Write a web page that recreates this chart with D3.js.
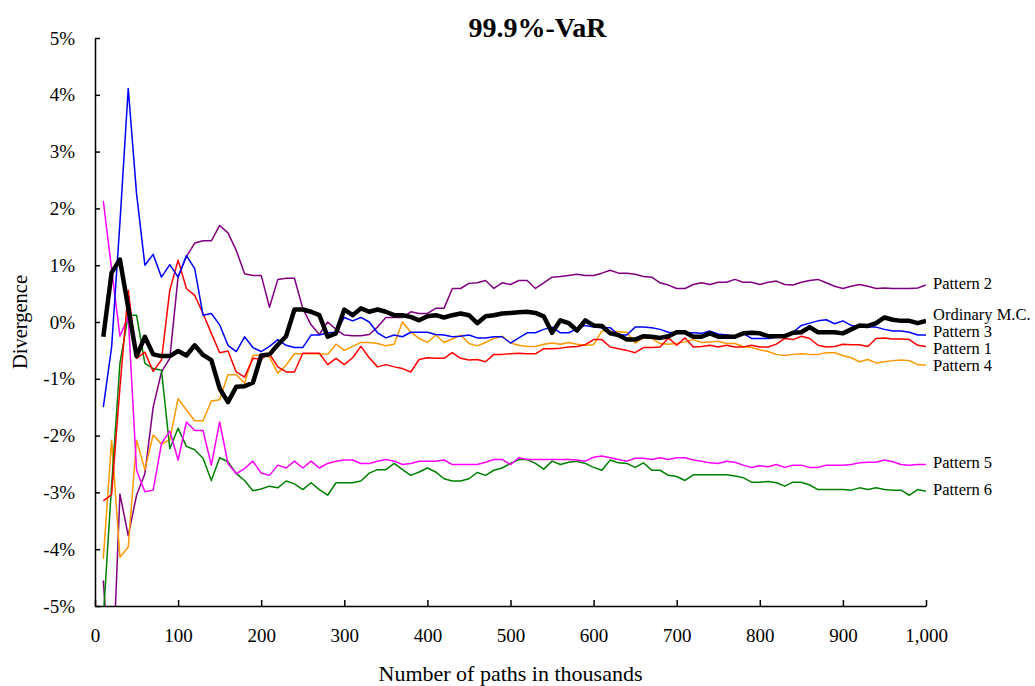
<!DOCTYPE html>
<html lang="en">
<head>
<meta charset="UTF-8">
<title>99.9%-VaR</title>
<script src="https://cdn.jsdelivr.net/npm/d3@7"></script>
<style>
    body { margin: 0; background: #fff; }
    text { font-family: "Liberation Serif", "Times New Roman", serif; fill: #000; }
</style>
</head>
<body>
<div id="chart"></div>
<script>
// Number of paths (thousands)
const paths = [10, 20, 30, 40, 50, 60, 70, 80, 90, 100,
    110, 120, 130, 140, 150, 160, 170, 180, 190, 200,
    210, 220, 230, 240, 250, 260, 270, 280, 290, 300,
    310, 320, 330, 340, 350, 360, 370, 380, 390, 400,
    410, 420, 430, 440, 450, 460, 470, 480, 490, 500,
    510, 520, 530, 540, 550, 560, 570, 580, 590, 600,
    610, 620, 630, 640, 650, 660, 670, 680, 690, 700,
    710, 720, 730, 740, 750, 760, 770, 780, 790, 800,
    810, 820, 830, 840, 850, 860, 870, 880, 890, 900,
    910, 920, 930, 940, 950, 960, 970, 980, 990, 1000];

// Divergence in %
const ordinaryMC = [-0.26, 0.87, 1.10, 0.25, -0.60, -0.26, -0.57, -0.60, -0.60, -0.51,
    -0.59, -0.41, -0.58, -0.67, -1.17, -1.41, -1.14, -1.13, -1.07, -0.59,
    -0.57, -0.40, -0.25, 0.22, 0.22, 0.18, 0.12, -0.26, -0.20, 0.22,
    0.12, 0.24, 0.18, 0.22, 0.18, 0.12, 0.12, 0.09, 0.03, 0.10,
    0.12, 0.08, 0.12, 0.15, 0.12, -0.02, 0.10, 0.12, 0.15, 0.16,
    0.17, 0.18, 0.16, 0.10, -0.19, 0.03, -0.02, -0.15, 0.03, -0.06,
    -0.07, -0.20, -0.23, -0.31, -0.31, -0.25, -0.26, -0.28, -0.25, -0.18,
    -0.18, -0.26, -0.26, -0.20, -0.26, -0.26, -0.26, -0.20, -0.19, -0.20,
    -0.25, -0.25, -0.25, -0.19, -0.18, -0.09, -0.18, -0.18, -0.18, -0.20,
    -0.13, -0.06, -0.07, -0.02, 0.08, 0.04, 0.02, 0.02, -0.02, 0.02];

const pattern1 = [-3.15, -3.04, -1.15, 0.56, -0.64, -0.53, -0.87, -0.67, 0.56, 1.09,
    0.59, 0.47, 0.15, -0.20, -0.54, -0.51, -0.88, -0.97, -0.64, -0.65,
    -0.56, -0.79, -0.88, -0.88, -0.55, -0.55, -0.55, -0.75, -0.64, -0.75,
    -0.63, -0.43, -0.63, -0.79, -0.75, -0.79, -0.82, -0.88, -0.66, -0.63,
    -0.64, -0.64, -0.54, -0.64, -0.67, -0.66, -0.70, -0.57, -0.57, -0.56,
    -0.55, -0.56, -0.56, -0.47, -0.47, -0.46, -0.44, -0.43, -0.40, -0.31,
    -0.31, -0.44, -0.47, -0.50, -0.54, -0.45, -0.45, -0.44, -0.28, -0.41,
    -0.28, -0.44, -0.43, -0.41, -0.44, -0.41, -0.44, -0.44, -0.41, -0.44,
    -0.44, -0.39, -0.29, -0.31, -0.25, -0.29, -0.41, -0.44, -0.43, -0.39,
    -0.40, -0.40, -0.43, -0.29, -0.28, -0.30, -0.30, -0.31, -0.41, -0.43];

const pattern2 = [-4.55, -6.70, -3.03, -3.76, -3.05, -2.67, -1.50, -0.88, -0.64, 0.80,
    1.15, 1.39, 1.43, 1.43, 1.70, 1.57, 1.26, 0.85, 0.82, 0.82,
    0.26, 0.75, 0.77, 0.77, 0.24, -0.05, -0.22, 0.00, -0.13, -0.23,
    -0.24, -0.24, -0.22, -0.09, 0.08, 0.08, 0.08, 0.18, 0.15, 0.15,
    0.24, 0.24, 0.59, 0.59, 0.68, 0.69, 0.73, 0.59, 0.69, 0.66,
    0.73, 0.73, 0.59, 0.69, 0.79, 0.80, 0.82, 0.84, 0.82, 0.82,
    0.86, 0.91, 0.86, 0.86, 0.84, 0.80, 0.79, 0.69, 0.65, 0.59,
    0.59, 0.66, 0.69, 0.66, 0.70, 0.70, 0.75, 0.70, 0.70, 0.66,
    0.70, 0.72, 0.66, 0.65, 0.70, 0.73, 0.75, 0.69, 0.63, 0.59,
    0.63, 0.66, 0.63, 0.59, 0.60, 0.59, 0.59, 0.59, 0.60, 0.65];

const pattern3 = [-1.50, -0.44, 1.75, 4.11, 2.26, 1.00, 1.19, 0.79, 1.01, 0.79,
    1.17, 0.94, 0.12, 0.15, -0.05, -0.41, -0.52, -0.26, -0.45, -0.52,
    -0.43, -0.31, -0.41, -0.45, -0.45, -0.23, -0.23, -0.19, -0.18, 0.08,
    0.02, 0.08, 0.00, -0.19, -0.28, -0.23, -0.26, -0.18, -0.18, -0.18,
    -0.22, -0.23, -0.26, -0.25, -0.23, -0.28, -0.28, -0.26, -0.26, -0.37,
    -0.28, -0.19, -0.19, -0.13, -0.09, -0.19, -0.19, -0.12, -0.06, -0.09,
    -0.10, -0.10, -0.23, -0.23, -0.09, -0.09, -0.10, -0.13, -0.18, -0.19,
    -0.19, -0.19, -0.20, -0.16, -0.21, -0.23, -0.25, -0.20, -0.29, -0.29,
    -0.29, -0.27, -0.25, -0.18, -0.06, -0.02, 0.02, 0.04, -0.03, 0.02,
    -0.06, -0.07, -0.09, -0.09, -0.13, -0.16, -0.16, -0.18, -0.23, -0.23];

const pattern4 = [-4.17, -2.08, -4.14, -3.96, -2.08, -2.60, -1.99, -2.15, -2.07, -1.35,
    -1.55, -1.74, -1.74, -1.39, -1.37, -0.93, -0.93, -1.08, -0.59, -0.58,
    -0.62, -0.90, -0.76, -0.56, -0.56, -0.56, -0.56, -0.57, -0.39, -0.50,
    -0.43, -0.36, -0.36, -0.38, -0.42, -0.39, 0.00, -0.18, -0.29, -0.36,
    -0.23, -0.36, -0.30, -0.23, -0.38, -0.42, -0.36, -0.29, -0.25, -0.37,
    -0.41, -0.43, -0.43, -0.39, -0.37, -0.39, -0.36, -0.39, -0.41, -0.40,
    -0.16, -0.16, -0.17, -0.18, -0.37, -0.28, -0.29, -0.38, -0.39, -0.38,
    -0.35, -0.31, -0.36, -0.35, -0.34, -0.38, -0.38, -0.43, -0.45, -0.49,
    -0.52, -0.57, -0.59, -0.57, -0.56, -0.57, -0.57, -0.54, -0.54, -0.59,
    -0.63, -0.70, -0.66, -0.72, -0.70, -0.68, -0.67, -0.68, -0.75, -0.76];

const pattern5 = [2.13, 0.93, -0.25, 0.09, -2.61, -2.99, -2.96, -2.14, -1.92, -2.43,
    -1.76, -1.91, -1.91, -2.52, -1.76, -2.49, -2.67, -2.58, -2.45, -2.66,
    -2.70, -2.52, -2.57, -2.45, -2.57, -2.45, -2.57, -2.49, -2.45, -2.43,
    -2.43, -2.49, -2.49, -2.45, -2.42, -2.45, -2.51, -2.49, -2.45, -2.45,
    -2.45, -2.43, -2.51, -2.51, -2.51, -2.51, -2.47, -2.42, -2.42, -2.51,
    -2.39, -2.42, -2.42, -2.42, -2.42, -2.42, -2.42, -2.43, -2.45, -2.38,
    -2.36, -2.39, -2.42, -2.45, -2.40, -2.40, -2.42, -2.39, -2.42, -2.39,
    -2.39, -2.43, -2.45, -2.48, -2.49, -2.45, -2.47, -2.52, -2.56, -2.53,
    -2.55, -2.51, -2.56, -2.52, -2.52, -2.56, -2.56, -2.52, -2.52, -2.52,
    -2.51, -2.48, -2.47, -2.47, -2.43, -2.46, -2.51, -2.52, -2.51, -2.51];

const pattern6 = [-5.20, -2.87, -0.73, 0.12, 0.12, -0.73, -0.82, -0.85, -2.23, -1.87,
    -2.19, -2.25, -2.40, -2.79, -2.39, -2.46, -2.67, -2.79, -2.97, -2.94,
    -2.89, -2.92, -2.80, -2.85, -2.95, -2.83, -2.95, -3.05, -2.83, -2.83,
    -2.83, -2.80, -2.66, -2.60, -2.60, -2.49, -2.60, -2.70, -2.64, -2.57,
    -2.64, -2.76, -2.80, -2.80, -2.76, -2.65, -2.70, -2.61, -2.57, -2.49,
    -2.42, -2.42, -2.49, -2.59, -2.45, -2.51, -2.47, -2.45, -2.49, -2.56,
    -2.61, -2.43, -2.48, -2.49, -2.56, -2.48, -2.61, -2.61, -2.70, -2.72,
    -2.79, -2.69, -2.69, -2.69, -2.69, -2.69, -2.71, -2.74, -2.82, -2.82,
    -2.81, -2.83, -2.89, -2.82, -2.82, -2.87, -2.95, -2.95, -2.95, -2.95,
    -2.96, -2.92, -2.95, -2.92, -2.95, -2.96, -2.96, -3.05, -2.95, -2.98];

const xTicks = [0, 100, 200, 300, 400, 500, 600, 700, 800, 900, 1000];
const yTicks = [-5, -4, -3, -2, -1, 0, 1, 2, 3, 4, 5];

// colored series first, the thick black one on top
const series = [
    { name: "Pattern 2", values: pattern2, color: "#800080", width: 1.5 },
    { name: "Pattern 4", values: pattern4, color: "#ff9900", width: 1.5 },
    { name: "Pattern 6", values: pattern6, color: "#008000", width: 1.5 },
    { name: "Pattern 5", values: pattern5, color: "#ff00ff", width: 1.5 },
    { name: "Pattern 1", values: pattern1, color: "#ff0000", width: 1.5 },
    { name: "Pattern 3", values: pattern3, color: "#0000ff", width: 1.5 },
    { name: "Ordinary M.C.", values: ordinaryMC, color: "#000000", width: 4.5 }
];

const width = 1035;
const height = 686;
const plotLeft = 95, plotRight = 926, plotTop = 38, plotBottom = 606;

const x = d3.scaleLinear().domain([0, 1000]).range([plotLeft, plotRight]);
const y = d3.scaleLinear().domain([-5, 5]).range([plotBottom, plotTop]);

const svg = d3.select('#chart')
    .append('svg')
    .attr('width', width)
    .attr('height', height);

svg.append('defs').append('clipPath')
    .attr('id', 'plot-clip')
    .append('rect')
    .attr('x', plotLeft)
    .attr('y', plotTop)
    .attr('width', plotRight - plotLeft)
    .attr('height', plotBottom - plotTop);

// Lines
const line = d3.line()
    .x((d, i) => x(paths[i]))
    .y(d => y(d));

svg.append('g')
    .attr('clip-path', 'url(#plot-clip)')
    .selectAll('path')
    .data(series)
    .join('path')
    .attr('fill', 'none')
    .attr('stroke', d => d.color)
    .attr('stroke-width', d => d.width)
    .attr('stroke-linejoin', 'round')
    .attr('d', d => line(d.values));

// Axes
svg.append('g')
    .attr('transform', `translate(0,${plotBottom})`)
    .call(d3.axisBottom(x)
        .tickValues(xTicks)
        .tickFormat(d3.format(','))
        .tickSizeInner(-6)
        .tickSizeOuter(0)
        .tickPadding(23));

svg.append('g')
    .attr('transform', `translate(${plotLeft},0)`)
    .call(d3.axisLeft(y)
        .tickValues(yTicks)
        .tickFormat(d => d + '%')
        .tickSizeInner(-5)
        .tickSizeOuter(0)
        .tickPadding(20));

svg.selectAll('.domain, .tick line')
    .attr('stroke', '#000')
    .attr('stroke-width', 1.5);
svg.selectAll('.tick text')
    .attr('font-family', '"Liberation Serif", serif')
    .attr('font-size', 19);

// Series labels at the line ends, pushed apart where they collide
const labels = series.map(s => ({ name: s.name, y: y(s.values[s.values.length - 1]) }));
labels.sort((a, b) => a.y - b.y);
const gap = 17;
for (let k = 0; k < 60; k++) {
    for (let i = 1; i < labels.length; i++) {
        const d = labels[i].y - labels[i - 1].y;
        if (d < gap) {
            const shift = (gap - d) / 2;
            labels[i - 1].y -= shift;
            labels[i].y += shift;
        }
    }
}

svg.append('g')
    .selectAll('text')
    .data(labels)
    .join('text')
    .attr('x', plotRight + 7)
    .attr('y', d => d.y - 2)
    .attr('dy', '0.35em')
    .attr('font-size', 16.5)
    .text(d => d.name);

// Titles
svg.append('text')
    .attr('x', (plotLeft + plotRight) / 2 + 27)
    .attr('y', 27)
    .attr('dy', '0.35em')
    .attr('text-anchor', 'middle')
    .attr('font-size', 28)
    .attr('font-weight', 'bold')
    .text('99.9%-VaR');

svg.append('text')
    .attr('x', (plotLeft + plotRight) / 2)
    .attr('y', 673)
    .attr('dy', '0.35em')
    .attr('text-anchor', 'middle')
    .attr('font-size', 22)
    .text('Number of paths in thousands');

svg.append('text')
    .attr('transform', `translate(20,${(plotTop + plotBottom) / 2}) rotate(-90)`)
    .attr('dy', '0.35em')
    .attr('text-anchor', 'middle')
    .attr('font-size', 20.5)
    .text('Divergence');
</script>
</body>
</html>
